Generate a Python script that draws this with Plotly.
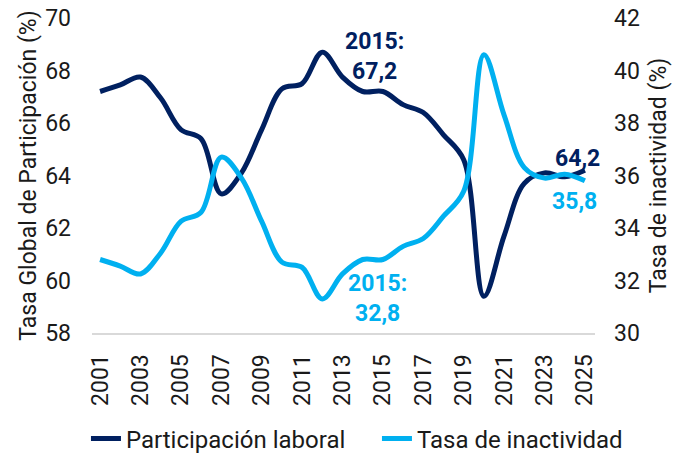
import plotly.graph_objects as go

years = list(range(2001, 2026))
participacion = [67.2, 67.45, 67.75, 66.95, 65.75, 65.4, 63.3, 64.1, 65.75, 67.3, 67.5,
                 68.7, 67.75, 67.2, 67.2, 66.7, 66.4, 65.55, 64.6, 59.4, 61.7, 63.7,
                 64.1, 63.95, 64.2]
inactividad = [32.8, 32.55, 32.25, 33.05, 34.25, 34.6, 36.7, 35.9, 34.25, 32.7, 32.5,
               31.3, 32.25, 32.8, 32.8, 33.3, 33.6, 34.45, 35.4, 40.6, 38.3, 36.3,
               35.9, 36.05, 35.8]

x_ticks = list(range(2001, 2026, 2))

DARK = "#002060"
LIGHT = "#00B0F0"
FONT = "Roboto"
TXT = "#1a1a1a"
FS = 23

fig = go.Figure()
fig.add_trace(go.Scatter(x=years, y=participacion, mode="lines", name="Participación laboral",
                         line=dict(color=DARK, width=5, shape="spline", smoothing=1.0)))
fig.add_trace(go.Scatter(x=years, y=inactividad, mode="lines", name="Tasa de inactividad",
                         yaxis="y2",
                         line=dict(color=LIGHT, width=5, shape="spline", smoothing=1.0)))

fig.update_layout(
    width=688, height=454,
    margin=dict(l=92, r=93, t=18, b=121, autoexpand=False),
    paper_bgcolor="white", plot_bgcolor="white",
    font=dict(family=FONT, size=FS, color=TXT),
    showlegend=True,
    legend=dict(orientation="h", x=-0.012, xanchor="left",
                y=-0.265, yanchor="top",
                entrywidth=246, entrywidthmode="pixels",
                font=dict(size=24, color=TXT), itemwidth=30, tracegroupgap=0),
    xaxis=dict(range=[2000.6, 2025.5], tickmode="array", tickvals=x_ticks,
               ticktext=[str(v) for v in x_ticks], tickangle=-90, automargin=False,
               showgrid=False, zeroline=False, showline=True, linecolor="#D9D9D9",
               linewidth=2, ticks="", ticklabelstandoff=10,
               tickfont=dict(size=FS, color=TXT)),
    yaxis=dict(range=[58, 70], dtick=2, showgrid=False, zeroline=False, showline=False,
               ticks="", ticklabelstandoff=20, automargin=False,
               title=dict(text="Tasa Global de Participación (%)", standoff=2,
                          font=dict(size=FS, color=TXT)),
               tickfont=dict(size=FS, color=TXT)),
    yaxis2=dict(range=[30, 42], dtick=2, overlaying="y", side="right", showgrid=False,
                zeroline=False, showline=False, ticks="", ticklabelstandoff=18,
                automargin=False,
                title=dict(text="Tasa de inactividad (%)", standoff=10,
                           font=dict(size=FS, color=TXT)),
                tickfont=dict(size=FS, color=TXT)),
)

ann_font = dict(family=FONT, size=FS, color=DARK)
fig.add_annotation(x=2014.6, y=67.37, xref="x", yref="y", text="<b>2015:<br>67,2</b>",
                   showarrow=False, font=ann_font, align="center", yanchor="bottom")
fig.add_annotation(x=2014.75, y=32.47, xref="x", yref="y2", text="<b>2015:<br>32,8</b>",
                   showarrow=False, font=dict(family=FONT, size=FS, color=LIGHT),
                   align="center", yanchor="top")
fig.add_annotation(x=2024.65, y=64.06, xref="x", yref="y", text="<b>64,2</b>",
                   showarrow=False, font=ann_font, align="center", yanchor="bottom")
fig.add_annotation(x=2024.5, y=35.6, xref="x", yref="y2", text="<b>35,8</b>",
                   showarrow=False, font=dict(family=FONT, size=FS, color=LIGHT),
                   align="center", yanchor="top")

fig.write_html("out.html", post_script="document.body.style.margin='0';",
               config={"displayModeBar": False})
